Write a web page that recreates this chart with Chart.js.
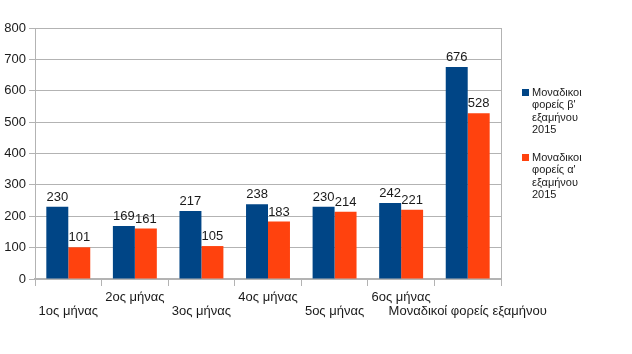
<!DOCTYPE html>
<html>
<head>
<meta charset="utf-8">
<script src="https://cdn.jsdelivr.net/npm/chart.js@4/dist/chart.umd.min.js"></script>
<style>
html,body{margin:0;padding:0;background:#fff;}
#wrap{position:relative;width:632px;height:354px;}
</style>
</head>
<body>
<div id="wrap"><canvas id="c" width="632" height="354"></canvas></div>
<script>
const categories = [
  ['', '1ος μήνας'],
  ['2ος μήνας'],
  ['', '3ος μήνας'],
  ['4ος μήνας'],
  ['', '5ος μήνας'],
  ['6ος μήνας'],
  ['', 'Μοναδικοί φορείς εξαμήνου']
];
const seriesBName = ['Μοναδικοι', 'φορείς β\'', 'εξαμήνου', '2015'];
const seriesAName = ['Μοναδικοι', 'φορείς α\'', 'εξαμήνου', '2015'];
const seriesB = [230, 169, 217, 238, 230, 242, 676];
const seriesA = [101, 161, 105, 183, 214, 221, 528];
const yTicks = [0, 100, 200, 300, 400, 500, 600, 700, 800];

const FONT = '"Liberation Sans", Arial, sans-serif';
const GRID = '#b3b3b3';

const valueLabels = {
  id: 'valueLabels',
  afterDatasetsDraw(chart) {
    const ctx = chart.ctx;
    ctx.save();
    ctx.font = '13px ' + FONT;
    ctx.fillStyle = '#1a1a1a';
    ctx.textAlign = 'center';
    ctx.textBaseline = 'bottom';
    chart.data.datasets.forEach((ds, di) => {
      const meta = chart.getDatasetMeta(di);
      meta.data.forEach((bar, i) => {
        ctx.fillText(String(ds.data[i]), bar.x, bar.y - 3);
      });
    });
    ctx.restore();
  }
};

const sideLegend = {
  id: 'sideLegend',
  afterDraw(chart) {
    const ctx = chart.ctx;
    ctx.save();
    ctx.font = '11px ' + FONT;
    ctx.textAlign = 'left';
    ctx.textBaseline = 'middle';
    const tops = [93, 158];
    chart.data.datasets.forEach((ds, di) => {
      const y0 = tops[di];
      ctx.fillStyle = ds.backgroundColor;
      ctx.fillRect(522, y0 - 4, 7, 7);
      ctx.fillStyle = '#1a1a1a';
      ds.legendLines.forEach((line, li) => {
        ctx.fillText(line, 532, y0 + li * 12.3);
      });
    });
    ctx.restore();
  }
};

new Chart(document.getElementById('c'), {
  type: 'bar',
  data: {
    labels: categories,
    datasets: [
      { label: seriesBName.join(' '), legendLines: seriesBName, data: seriesB, backgroundColor: '#004586', barPercentage: 1.0, categoryPercentage: 0.66 },
      { label: seriesAName.join(' '), legendLines: seriesAName, data: seriesA, backgroundColor: '#ff420e', barPercentage: 1.0, categoryPercentage: 0.66 }
    ]
  },
  options: {
    responsive: false,
    animation: false,
    devicePixelRatio: 1,
    layout: { padding: { top: 28, right: 131, left: 0, bottom: 0 } },
    plugins: {
      legend: { display: false },
      tooltip: { enabled: false }
    },
    scales: {
      x: {
        offset: true,
        grid: {
          offset: true,
          drawOnChartArea: true,
          color: c => (c.type === 'tick' ? 'rgba(0,0,0,0)' : GRID),
          tickColor: GRID,
          tickLength: 7,
          lineWidth: 1
        },
        border: { display: true, color: GRID, width: 2 },
        ticks: {
          autoSkip: false,
          maxRotation: 0,
          minRotation: 0,
          padding: 4,
          color: '#1a1a1a',
          font: { family: FONT, size: 13, lineHeight: 1.08 }
        },
        afterFit(scale) { scale.height = 75; }
      },
      y: {
        min: 0,
        max: 800,
        afterBuildTicks(scale) { scale.ticks = yTicks.map(v => ({ value: v })); },
        grid: { color: GRID, tickColor: GRID, tickLength: 6, lineWidth: 1 },
        border: { display: true, color: GRID, width: 1 },
        ticks: {
          padding: 3,
          color: '#1a1a1a',
          font: { family: FONT, size: 13 }
        },
        afterFit(scale) { scale.width = 35; }
      }
    }
  },
  plugins: [valueLabels, sideLegend]
});
</script>
</body>
</html>
